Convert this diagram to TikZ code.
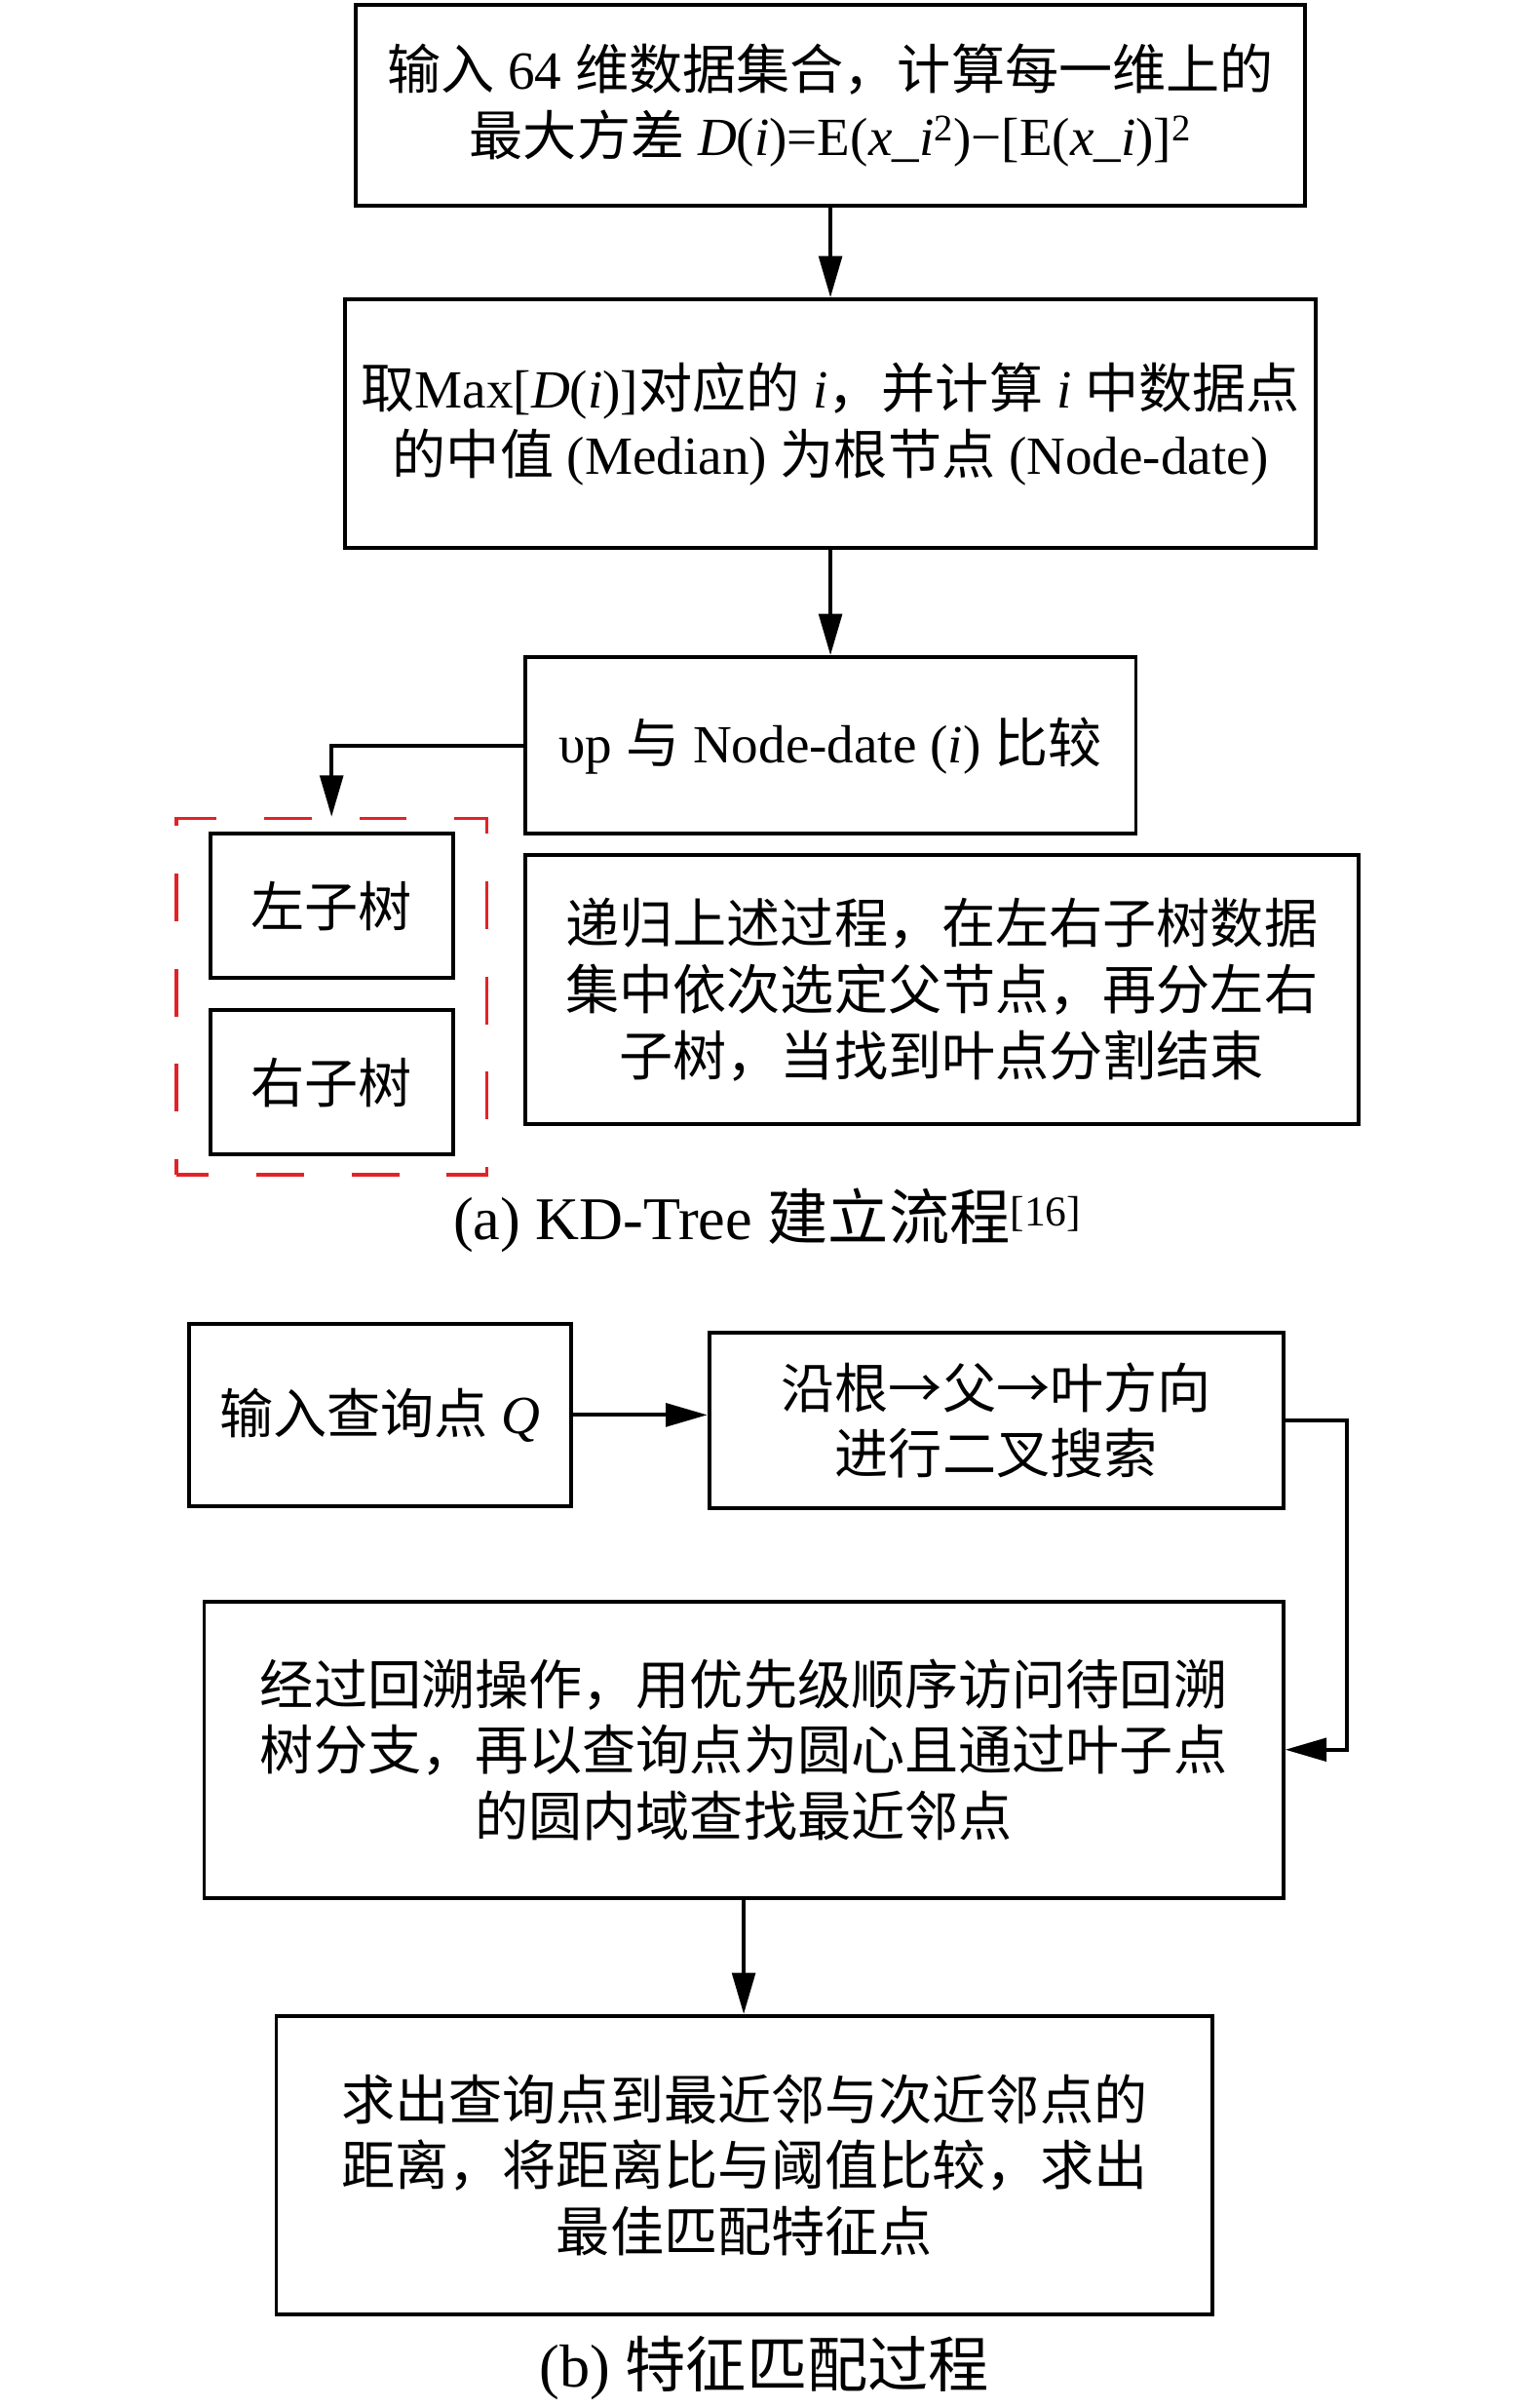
\documentclass[tikz,border=0pt]{standalone}
\usepackage{fontspec}
\setmainfont{Liberation Serif}
\newfontfamily\zh{Noto Sans CJK SC}
\usepackage{xcolor}
\usepackage{tikz}
\usetikzlibrary{positioning,arrows.meta,calc}
\definecolor{grpred}{RGB}{225,35,40}
\newcommand{\boxfont}{\fontsize{35}{43}\selectfont}
\newcommand{\capfont}{\fontsize{39.5}{46}\selectfont}

\begin{document}
\begin{tikzpicture}[
  x=1pt, y=-1pt,
  proc/.style={draw, line width=2.5pt, inner sep=0pt, align=center, font=\boxfont},
  zhproc/.style={proc, font=\boxfont\zh},
  grpbox/.style={draw=grpred, line width=2.1pt, dash pattern=on 31pt off 31pt, dash phase=10pt},
  flow/.style={line width=2.5pt, -{Triangle[length=27pt, width=15pt]}},
  figcap/.style={font=\capfont}
]
  \useasboundingbox (0,0) rectangle (1000,1568.25);

  % (a) KD-Tree construction
  \node[proc, minimum width=618pt, minimum height=131pt] (inp) at (541,68.5)
    {{\zh 输入} 64 {\zh 维数据集合，计算每一维上的}\\{\zh 最大方差} \textit{D}(\textit{i})=E(\textit{x\_i}\textsuperscript{2})−[E(\textit{x\_i})]\textsuperscript{2}};

  \node[proc, minimum width=632pt, minimum height=162pt] (med) at (541,276)
    {{\zh 取}Max[\textit{D}(\textit{i})]{\zh 对应的} \textit{i}{\zh ，并计算} \textit{i} {\zh 中数据点}\\{\zh 的中值} (Median) {\zh 为根节点} (Node-date)};

  \node[proc, minimum width=398pt, minimum height=115pt] (cmp) at (541,485.5)
    {υp {\zh 与} Node-date (\textit{i}) {\zh 比较}};

  % dashed group round the two subtrees
  \node[grpbox, minimum width=202pt, minimum height=232pt] (grp) at (216,649) {};
  \node[zhproc, minimum width=158pt, minimum height=94pt] (lt) at (216,590) {左子树};
  \node[zhproc, minimum width=158pt, minimum height=94pt] (rt) at (216,705) {右子树};

  \node[zhproc, minimum width=543pt, minimum height=175pt] (rec) at (613.5,644.5)
    {递归上述过程，在左右子树数据\\集中依次选定父节点，再分左右\\子树，当找到叶点分割结束};

  \draw[flow] (inp.south) -- (med.north);
  \draw[flow] (med.south) -- (cmp.north);
  \draw[flow] (cmp.west) -| (grp.north);

  \node[figcap] (capa) at (500,795) {(a) KD-Tree {\zh 建立流程}\textsuperscript{[16]}};

  % (b) feature matching
  \node[proc, minimum width=249pt, minimum height=119pt] (qry) at (247.5,921.5)
    {{\zh 输入查询点} \textit{Q}};

  \node[zhproc, minimum width=374pt, minimum height=114pt] (srch) at (649,925)
    {沿根→父→叶方向\\进行二叉搜索};

  \node[zhproc, minimum width=703pt, minimum height=193pt] (back) at (484.5,1139.5)
    {经过回溯操作，用优先级顺序访问待回溯\\树分支，再以查询点为圆心且通过叶子点\\的圆内域查找最近邻点};

  \node[zhproc, minimum width=610pt, minimum height=194pt] (fin) at (485,1410)
    {求出查询点到最近邻与次近邻点的\\距离，将距离比与阈值比较，求出\\最佳匹配特征点};

  \draw[flow] (qry.east) -- (qry.east -| srch.west);
  \draw[flow] (srch.east) -- ++(40,0) |- (back.east);
  \draw[flow] (back.south) -- (back.south |- fin.north);

  \node[figcap] (capb) at (498,1542) {(b) {\zh 特征匹配过程}};
\end{tikzpicture}
\end{document}
